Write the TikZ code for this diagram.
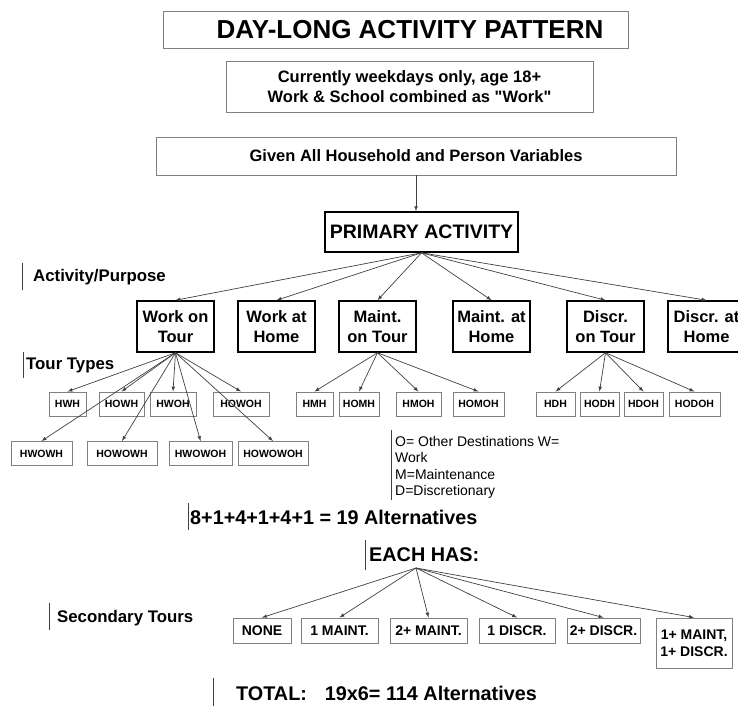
\documentclass[tikz,border=0pt]{standalone}
\usepackage{fontspec}
\setmainfont{Liberation Sans}[Ligatures=TeXOff]
\usetikzlibrary{shapes,arrows}

\begin{document}
\begin{tikzpicture}[x=1pt, y=-1pt, >=latex,
  box/.style={draw=gray, line width=0.9pt, align=center, inner sep=0pt},
  actbox/.style={draw, line width=1.5pt, align=center, inner sep=0pt, minimum width=77pt, minimum height=51pt, font=\fontsize{16.5}{20}\selectfont\bfseries},
  tourbox/.style={box, minimum height=24pt, font=\fontsize{10.5}{12}\selectfont\bfseries},
  secbox/.style={box, minimum height=25pt, font=\fontsize{14}{17}\selectfont\bfseries},
  lbl/.style={anchor=west, inner sep=0pt, font=\fontsize{16.8}{20}\selectfont\bfseries},
  biglbl/.style={anchor=west, inner sep=0pt, font=\fontsize{19.8}{23}\selectfont\bfseries},
  bar/.style={line width=0.8pt, darkgray},
  conn/.style={->, line width=0.7pt, darkgray}]
\useasboundingbox (0,0) rectangle (738,706);
\clip (0,0) rectangle (738,706);

% header boxes
\node[box, minimum width=465pt, minimum height=37pt, font=\fontsize{26}{30}\selectfont\bfseries] (title) at (395.5,29.5) {\hspace*{29pt}DAY-LONG ACTIVITY PATTERN};
\node[box, minimum width=367pt, minimum height=51pt, font=\fontsize{16.5}{20}\selectfont\bfseries] (scope) at (409.5,86.5) {Currently weekdays only, age 18+\\Work \& School combined as "Work"};
\node[box, minimum width=520pt, minimum height=38pt, font=\fontsize{16.5}{20}\selectfont\bfseries] (given) at (416,156) {Given All Household and Person Variables};
\node[draw, line width=1.6pt, minimum width=193pt, minimum height=40pt, inner sep=0pt, font=\fontsize{19.5}{23}\selectfont\bfseries] (primary) at (421.5,232) {PRIMARY ACTIVITY};
\draw[conn] (given.south) -- (given.south |- primary.north);

% activity / purpose
\node[lbl] (actlbl) at (33,277) {Activity/Purpose};
\draw[bar] (22,263) -- (22,290);
\node[actbox] (wot) at (175.5,326.5) {Work on\\Tour};
\node[actbox] (wah) at (276.5,326.5) {Work at\\Home};
\node[actbox] (mot) at (377.5,326.5) {Maint.\\on Tour};
\node[actbox] (mah) at (491.5,326.5) {Maint. at\\Home};
\node[actbox] (dot) at (605.5,326.5) {Discr.\\on Tour};
\node[actbox] (dah) at (706.5,326.5) {Discr. at\\Home};
\foreach \a in {wot,wah,mot,mah,dot,dah}
  \draw[conn] (primary.south) -- (\a.north);

% tour types
\node[lbl] (tourlbl) at (26,365) {Tour Types};
\draw[bar] (23,352) -- (23,378);
\foreach \nm/\txt/\xa/\xb in {hwh/HWH/49/86, howh/HOWH/99/144, hwoh/HWOH/150/196, howoh/HOWOH/213/269,
    hmh/HMH/296/333, homh/HOMH/339/379, hmoh/HMOH/396/441, homoh/HOMOH/453/504,
    hdh/HDH/536/575, hodh/HODH/580/619, hdoh/HDOH/624/663, hodoh/HODOH/669/720}
  \node[tourbox, minimum width={\xb-\xa}] (\nm) at ({(\xa+\xb)/2},404) {\txt};
\foreach \nm/\txt/\xa/\xb in {hwowh/HWOWH/11/72, howowh/HOWOWH/87/157, hwowoh/HWOWOH/169/232, howowoh/HOWOWOH/238/308}
  \node[tourbox, minimum width={\xb-\xa}] (\nm) at ({(\xa+\xb)/2},453.5) {\txt};
\foreach \a in {hwh,howh,hwoh,howoh,hwowh,howowh,hwowoh,howowoh}
  \draw[conn] (wot.south) -- (\a.north);
\foreach \a in {hmh,homh,hmoh,homoh}
  \draw[conn] (mot.south) -- (\a.north);
\foreach \a in {hdh,hodh,hdoh,hodoh}
  \draw[conn] (dot.south) -- (\a.north);

% key
\node[anchor=north west, inner sep=0pt, align=left, font=\fontsize{14}{16.5}\selectfont] (key) at (395,436) {O= Other Destinations W=\\Work\\M=Maintenance\\D=Discretionary};
\draw[bar] (391,430) -- (391,500);

% counts
\node[biglbl] (sum) at (190,517) {8+1+4+1+4+1 = 19 Alternatives};
\draw[bar] (188,503) -- (188,530);
\node[biglbl] (each) at (369,555) {EACH HAS:};
\draw[bar] (365,540) -- (365,570);

% secondary tours
\node[lbl] (seclbl) at (57,618) {Secondary Tours};
\draw[bar] (49,603) -- (49,630);
\coordinate (hub) at (416,568);
\foreach \nm/\txt/\xa/\xb in {none/NONE/233/291, mone/1 MAINT./301/378, mtwo/2+ MAINT./390/467, done/1 DISCR./479/555, dtwo/2+ DISCR./567/640}
  \node[secbox, minimum width={\xb-\xa}] (\nm) at ({(\xa+\xb)/2},630.5) {\txt};
\node[secbox, minimum width=76pt, minimum height=50pt] (both) at (694,643) {1+ MAINT,\\1+ DISCR.};
\foreach \a in {none,mone,mtwo,done,dtwo,both}
  \draw[conn] (hub) -- (\a.north);

% total
\node[biglbl] (total) at (236,693) {TOTAL:\hspace{18pt}19x6= 114 Alternatives};
\draw[bar] (213,678) -- (213,706);
\end{tikzpicture}
\end{document}
